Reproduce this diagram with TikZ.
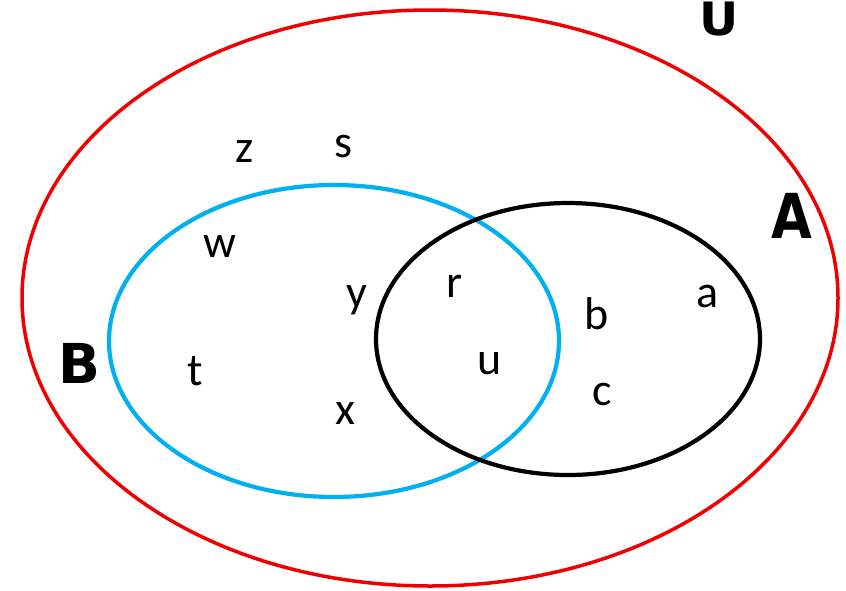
\documentclass[tikz,border=0pt]{standalone}
\usepackage{fontspec}
\setmainfont{Carlito}
\newfontfamily\boldsans{DejaVu Sans}[BoldFont={* Bold}]
\definecolor{vred}{RGB}{240,0,0}
\definecolor{vblue}{RGB}{0,176,240}
\begin{document}
\begin{tikzpicture}[x=1pt,y=-1pt,
  elt/.style={anchor=base,inner sep=0pt,font=\fontsize{46}{46}\selectfont},
  setlabel/.style={anchor=base,inner sep=0pt},
  ring/.style={line width=4.2pt}]
\clip (0,0) rectangle (846,590);
\fill[white] (0,0) rectangle (846,590);
\draw[ring,vred,line width=3.5pt] (430,298) ellipse [x radius=408, y radius=288];
\draw[ring,vblue] (334,341) ellipse [x radius=225, y radius=156];
\draw[ring,black] (568,339) ellipse [x radius=192, y radius=136];
\node[setlabel,font=\boldsans\bfseries\fontsize{46}{46}\selectfont,xscale=1.05] (U) at (719,35) {U};
\node[setlabel,font=\boldsans\bfseries\fontsize{62}{62}\selectfont,xscale=0.85] (A) at (792,238) {A};
\node[setlabel,font=\boldsans\bfseries\fontsize{55}{55}\selectfont] (B) at (79,383) {B};
\node[elt] (z) at (245,162) {z};
\node[elt] (s) at (343,157) {s};
\node[elt] (w) at (220,257) {w};
\node[elt] (y) at (357,307) {y};
\node[elt] (r) at (455,297) {r};
\node[elt] (b) at (597,329) {b};
\node[elt] (a) at (708,307) {a};
\node[elt] (t) at (195,385) {t};
\node[elt] (u) at (490,374) {u};
\node[elt] (c) at (602,405) {c};
\node[elt] (x) at (345,424) {x};
\end{tikzpicture}
\end{document}
